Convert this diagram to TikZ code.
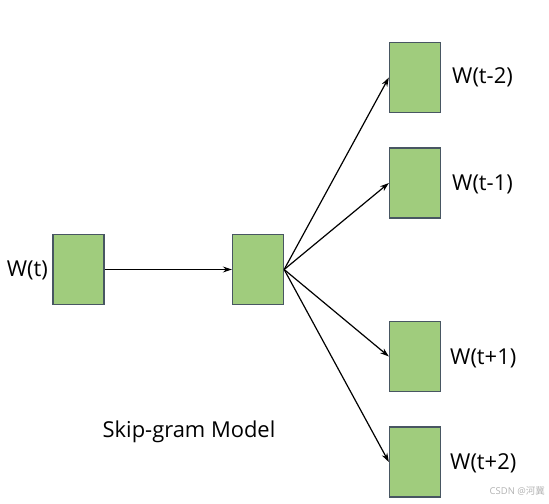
\documentclass[tikz,border=0pt]{standalone}
\usepackage{fontspec}
\setmainfont{Open Sans}
\newfontfamily\cjkfont{Noto Sans CJK SC}
\usetikzlibrary{arrows.meta}
\definecolor{boxgreen}{RGB}{160,204,125}
\definecolor{boxedge}{RGB}{72,86,98}
\begin{document}
\begin{tikzpicture}[
        x=1bp, y=-1bp,
        wordbox/.style = {draw=boxedge, fill=boxgreen, line width=1.3bp, minimum width=51bp, minimum height=70bp, inner sep=0pt},
        wordlabel/.style = {inner sep=0pt, font=\fontsize{22}{26}\selectfont, text=black},
        link/.style = {-{Stealth[length=9bp,width=6bp]}, line width=1.2bp}
    ]
    \useasboundingbox (0,0) rectangle (549,504);
    \node[wordbox] (input) at (78.5,269.5) {};
    \node[wordbox] (hidden) at (258,269.5) {};
    \node[wordbox] (tm2) at (415,77.5) {};
    \node[wordbox] (tm1) at (415,183) {};
    \node[wordbox] (tp1) at (415,356.5) {};
    \node[wordbox] (tp2) at (415,462) {};

    \node[wordlabel, anchor=east] (lt) at (48,270) {W(t)};
    \node[wordlabel, anchor=west] (ltm2) at (452,77) {W(t-2)};
    \node[wordlabel, anchor=west] (ltm1) at (452,184) {W(t-1)};
    \node[wordlabel, anchor=west] (ltp1) at (450,358) {W(t+1)};
    \node[wordlabel, anchor=west] (ltp2) at (450,463) {W(t+2)};
    \node[wordlabel] (title) at (189,432) {Skip-gram Model};
    \node[inner sep=0pt, anchor=east, text=black!30, font=\fontsize{9.5}{11}\selectfont] (mark) at (545,491) {CSDN @\cjkfont 河冀};

    \draw[link] (input) -- (hidden);
    \draw[link] (hidden.east) -- (tm2.west);
    \draw[link] (hidden.east) -- (tm1.west);
    \draw[link] (hidden.east) -- (tp1.west);
    \draw[link] (hidden.east) -- (tp2.west);
\end{tikzpicture}
\end{document}
